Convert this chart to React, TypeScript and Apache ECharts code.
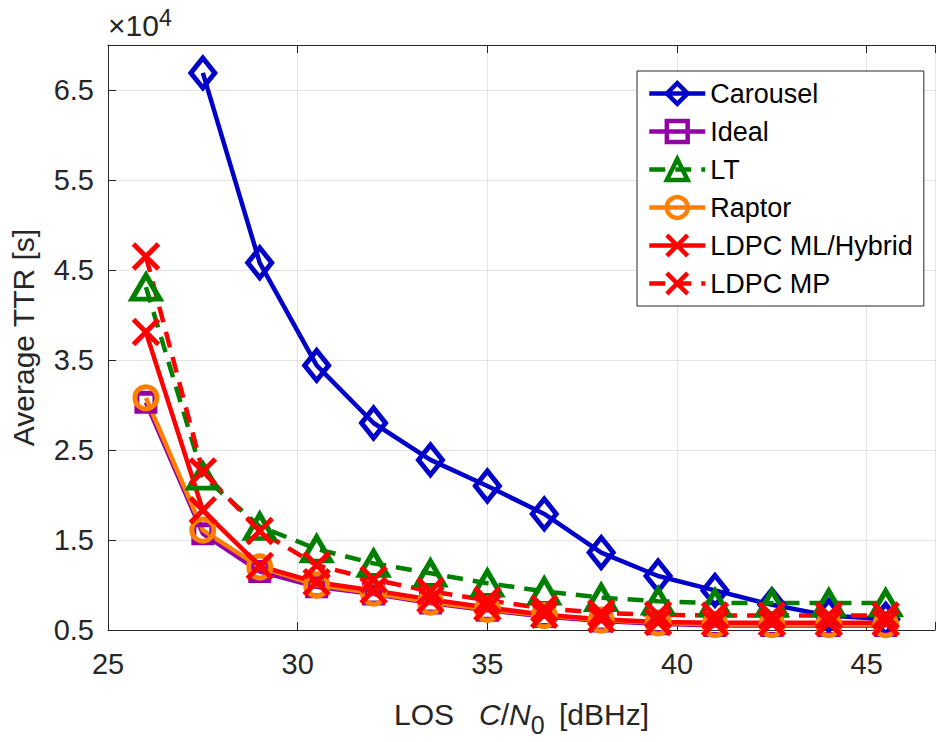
import React, { useEffect, useRef } from "react";
import * as echarts from "echarts";

const xValues = [26, 27.5, 29, 30.5, 32, 33.5, 35, 36.5, 38, 39.5, 41, 42.5, 44, 45.5];
const carousel = [null, 66900, 45800, 34400, 28000, 23900, 21000, 17900, 13600, 11000, 9400, 7800, 6600, 6200];
const ideal = [30300, 15700, 11500, 9800, 9000, 8000, 7200, 6500, 6000, 5700, 5500, 5500, 5500, 5500];
const lt = [43100, 22100, 16500, 14000, 12400, 11300, 10200, 9300, 8600, 8200, 8000, 8000, 8000, 8000];
const raptor = [30800, 16100, 12000, 10000, 9100, 8100, 7300, 6600, 6100, 5800, 5600, 5600, 5600, 5600];
const ldpcML = [38100, 18300, 12100, 10300, 9400, 8400, 7500, 6700, 6200, 5900, 5800, 5800, 5800, 5800];
const ldpcMP = [46500, 22600, 16000, 12200, 10600, 9300, 8300, 7400, 6900, 6700, 6600, 6600, 6600, 6600];
const xTicks = [25, 30, 35, 40, 45];
const yTicks = [5000, 15000, 25000, 35000, 45000, 55000, 65000];

const FONT = "'Liberation Sans', Arial, Helvetica, sans-serif";
const AXIS = "#262626";
const XSYM = "path://M0 0L20 20M20 0L0 20";

function pairs(ys: (number | null)[]) {
  const out: [number, number][] = [];
  ys.forEach((y, i) => {
    if (y !== null) out.push([xValues[i], y]);
  });
  return out;
}

function mk(name: string, ys: (number | null)[], color: string, symbol: string, size: number | number[], dashed: boolean) {
  return {
    name,
    type: "line",
    data: pairs(ys),
    symbol,
    symbolSize: size,
    showAllSymbol: true,
    lineStyle: { color, width: 4.5, type: dashed ? [16, 10] : "solid" },
    itemStyle: { color: "rgba(0,0,0,0)", borderColor: color, borderWidth: 5, borderType: "solid" },
    emphasis: { disabled: true },
  };
}

export default function App() {
  const ref = useRef<HTMLDivElement>(null);
  useEffect(() => {
    const chart = echarts.init(ref.current!, null, { renderer: "svg" });
    chart.setOption({
      animation: false,
      backgroundColor: "#fff",
      textStyle: { fontFamily: FONT },
      grid: { left: 107, right: 0, top: 45, bottom: 110 },
      xAxis: [
        {
          type: "value",
          min: 25,
          max: 46.8,
          interval: 5,
          axisLine: { show: true, lineStyle: { color: AXIS, width: 1 } },
          axisTick: { show: true, inside: true, length: 8, lineStyle: { color: AXIS } },
          axisLabel: {
            fontSize: 29,
            color: AXIS,
            fontFamily: FONT,
            margin: 19,
            formatter: (v: number) => (xTicks.includes(v) ? String(v) : ""),
          },
          splitLine: { show: true, lineStyle: { color: "#e3e3e3", width: 1 } },
          name: "{n|LOS   }{i|C}{n|/}{i|N}{s|0}{n| [dBHz]}",
          nameLocation: "middle",
          nameGap: 62,
          nameTextStyle: {
            rich: {
              n: { fontSize: 30, fontFamily: FONT, color: AXIS },
              i: { fontSize: 30, fontFamily: FONT, fontStyle: "italic", color: AXIS },
              s: { fontSize: 25, fontFamily: FONT, color: AXIS, verticalAlign: "bottom", padding: [20, 6, 0, 0] },
            },
          },
        },
        {
          type: "value",
          position: "top",
          min: 25,
          max: 46.8,
          interval: 5,
          axisLine: { show: true, onZero: false, lineStyle: { color: AXIS, width: 1 } },
          axisTick: { show: true, inside: true, length: 8, lineStyle: { color: AXIS } },
          axisLabel: { show: false },
          splitLine: { show: false },
        },
      ],
      yAxis: {
        type: "value",
        min: 5000,
        max: 70000,
        interval: 10000,
        axisLine: { show: true, lineStyle: { color: AXIS, width: 1 } },
        axisTick: { show: true, inside: true, length: 8, lineStyle: { color: AXIS } },
        axisLabel: {
          fontSize: 29,
          color: AXIS,
          fontFamily: FONT,
          margin: 14,
          formatter: (v: number) => (yTicks.includes(v) ? (v / 10000).toFixed(1) : ""),
        },
        splitLine: { show: true, lineStyle: { color: "#e3e3e3", width: 1 } },
        name: "Average TTR [s]",
        nameLocation: "middle",
        nameGap: 70,
        nameTextStyle: { fontSize: 30, fontFamily: FONT, color: AXIS },
      },
      legend: {
        orient: "vertical",
        left: 637,
        top: 71,
        padding: [9, 11, 9, 10],
        itemGap: 11,
        itemWidth: 56,
        itemHeight: 26,
        borderColor: AXIS,
        borderWidth: 1,
        backgroundColor: "#fff",
        itemStyle: { borderWidth: 4.5 },
        lineStyle: { width: 4.5 },
        textStyle: { fontSize: 27, fontFamily: FONT, color: "#000" },
        data: ["Carousel", "Ideal", "LT", "Raptor", "LDPC ML/Hybrid", "LDPC MP"],
      },
      graphic: [
        {
          type: "text",
          left: 108,
          top: 6,
          style: {
            text: "{a|×10}{b|4}",
            rich: {
              a: { fontSize: 30, fontFamily: FONT, fill: AXIS },
              b: { fontSize: 23, fontFamily: FONT, fill: AXIS, verticalAlign: "top", padding: [0, 0, 16, 0] },
            },
          },
        },
      ],
      series: [
        mk("Carousel", carousel, "#0000c8", "diamond", [24, 30], false),
        mk("Ideal", ideal, "#9400a8", "rect", 18, false),
        mk("LT", lt, "#008000", "triangle", [28, 24], true),
        mk("Raptor", raptor, "#ff8000", "circle", 22, false),
        mk("LDPC ML/Hybrid", ldpcML, "#ff0000", XSYM, 25, false),
        mk("LDPC MP", ldpcMP, "#ff0000", XSYM, 25, true),
      ],
    });
    return () => chart.dispose();
  }, []);
  return <div ref={ref} style={{ position: "fixed", left: 0, top: 0, width: 938, height: 742 }} />;
}
